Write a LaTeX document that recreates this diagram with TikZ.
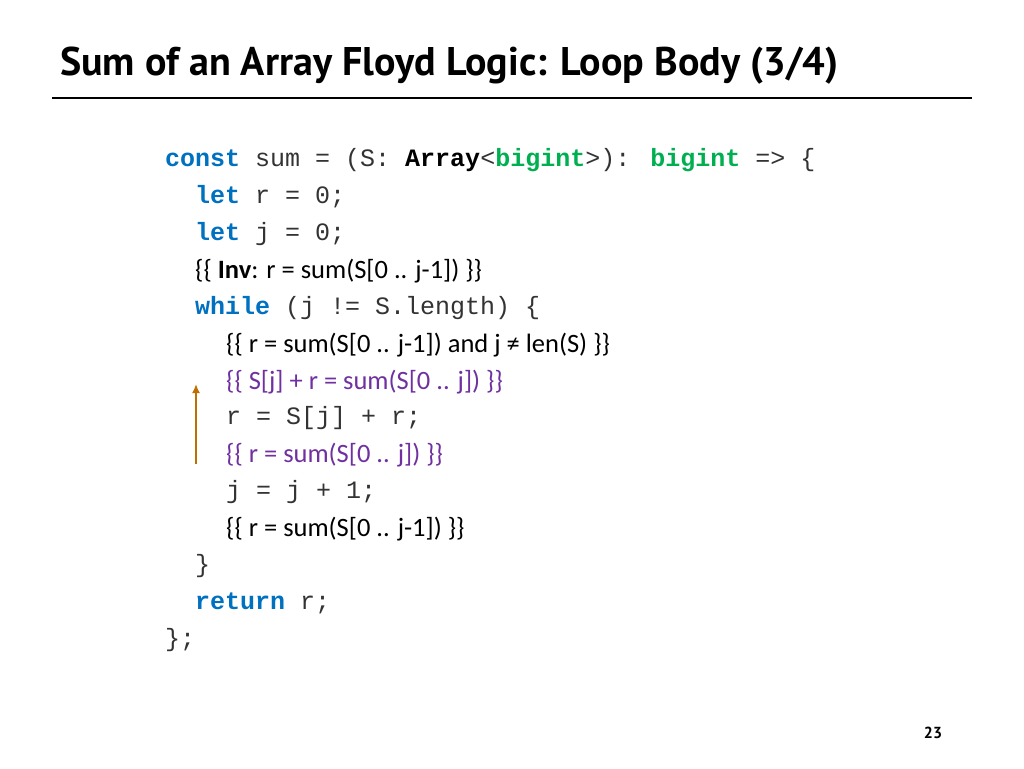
\documentclass[tikz,border=0pt]{standalone}
\usepackage{fontspec}
\usetikzlibrary{arrows.meta}
\setmainfont{Carlito}
\newfontfamily\titlefont{PT Sans}
\newfontfamily\codefont{Liberation Mono}
\definecolor{kw}{RGB}{0,112,192}
\definecolor{ty}{RGB}{0,176,80}
\definecolor{pu}{RGB}{112,48,160}
\definecolor{ar}{RGB}{191,110,0}
\begin{document}
\begin{tikzpicture}[x=1pt,y=-1pt,
  code/.style={anchor=west,inner sep=0pt,font=\codefont\fontsize{25}{28}\selectfont,text=black!80},
  cond/.style={anchor=west,inner sep=0pt,font=\fontsize{26.5}{30}\selectfont,text=pu},
  plain/.style={anchor=west,inner sep=0pt,font=\fontsize{26.5}{30}\selectfont,text=black}]
\useasboundingbox (0,0) rectangle (1024,768);
\node[anchor=west,inner sep=0pt,font=\titlefont\bfseries\fontsize{40}{44}\selectfont] (title) at (60,66) {Sum of an Array Floyd Logic: Loop Body (3/4)};
\draw[line width=2.5pt] (52,98) -- (972,98);
\node[code] (l1) at (165,160) {\textbf{\textcolor{kw}{const}} sum = (S: \textbf{\textcolor{black}{Array}}<\textbf{\textcolor{ty}{bigint}}>): \textbf{\textcolor{ty}{bigint}} => \{};
\node[code] (l2) at (195,197) {\textbf{\textcolor{kw}{let}} r = 0;};
\node[code] (l3) at (195,234) {\textbf{\textcolor{kw}{let}} j = 0;};
\node[plain] (l4) at (195,271) {\{\{ \textbf{Inv}: r = sum(S[0 .. j-1]) \}\}};
\node[code] (l5) at (195,308) {\textbf{\textcolor{kw}{while}} (j != S.length) \{};
\node[plain] (l6) at (226,345) {\{\{ r = sum(S[0 .. j-1]) and j ≠ len(S) \}\}};
\node[cond] (l7) at (226,382) {\{\{ S[j] + r = sum(S[0 .. j]) \}\}};
\node[code] (l8) at (226,418) {r = S[j] + r;};
\node[cond] (l9) at (226,455) {\{\{ r = sum(S[0 .. j]) \}\}};
\node[code] (l10) at (226,492) {j = j + 1;};
\node[plain] (l11) at (226,529) {\{\{ r = sum(S[0 .. j-1]) \}\}};
\node[code] (l12) at (195,566) {\}};
\node[code] (l13) at (195,603) {\textbf{\textcolor{kw}{return}} r;};
\node[code] (l14) at (165,640) {\};};
\coordinate (a1) at (196,464);
\coordinate (a2) at (196,384);
\draw[ar,line width=1.8pt,-{Latex[length=9pt,width=8pt]}] (a1) -- (a2);
\node[inner sep=0pt,font=\titlefont\bfseries\fontsize{16}{18}\selectfont] (pg) at (933,733) {23};
\end{tikzpicture}
\end{document}
